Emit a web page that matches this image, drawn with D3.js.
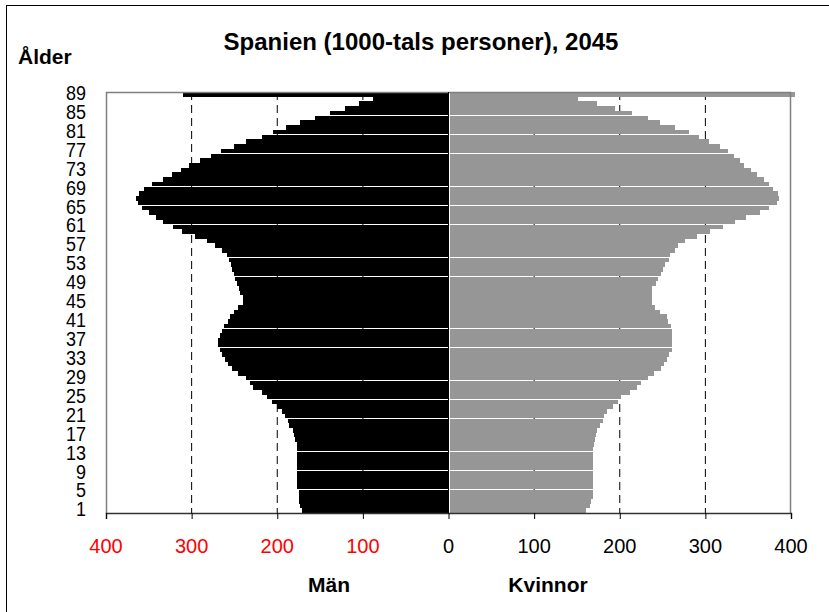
<!DOCTYPE html>
<html lang="sv">
<head>
    <meta charset="utf-8">
    <title>Spanien 2045</title>
    <script src="https://d3js.org/d3.v7.min.js"></script>
    <style>
        body { margin: 0; background: #fff; }
        svg text { font-family: Arial, "Liberation Sans", sans-serif; }
    </style>
</head>
<body>

<script>
    // ages 1..89, bottom to top
    const ages = d3.range(1, 90);
    const men = [171,174,175,175,175,177,177,177,177,177,177,177,177,177,177,179,180,182,186,188,
                 191,195,200,206,212,218,228,232,236,246,253,257,261,264,267,269,269,267,264,262,
                 258,255,251,246,240,240,243,245,247,249,251,253,254,256,259,265,273,282,296,311,
                 322,333,342,350,358,363,365,361,356,346,334,323,312,303,290,277,266,251,236,218,
                 205,190,173,156,138,121,105,88,310];
    const women = [161,165,167,169,169,169,169,169,169,169,169,169,169,169,170,171,172,174,177,180,
                   182,185,192,198,202,212,220,225,233,240,248,252,255,257,261,261,261,261,261,260,
                   256,255,247,241,238,238,238,238,242,245,248,251,253,257,259,264,268,276,290,305,
                   320,335,348,364,374,384,386,385,379,374,368,360,353,345,340,333,327,317,304,292,
                   281,264,247,233,214,194,173,151,405];
    const ageLabels = [1,5,9,13,17,21,25,29,33,37,41,45,49,53,57,61,65,69,73,77,81,85,89];
    const xTicks = [-400,-300,-200,-100,0,100,200,300,400];
    const gridVals = [-300,-200,-100,100,200,300];

    const W = 829, H = 612;
    const plot = {left: 106, right: 791, top: 92, bottom: 513};

    const svg = d3.select("body").append("svg").attr("width", W).attr("height", H);

    // outer frame
    svg.append("rect")
            .attr("x", 6.5).attr("y", 5.5)
            .attr("width", W + 10).attr("height", H + 10)
            .attr("fill", "none").attr("stroke", "#000");

    const x = d3.scaleLinear().domain([-400, 400]).range([plot.left, plot.right]);
    const y = d3.scaleBand()
            .domain(ages.slice().reverse())
            .range([plot.top, plot.bottom])
            .paddingInner(0.04);

    // gridlines
    svg.append("g").selectAll("line")
            .data(gridVals).enter()
            .append("line")
            .attr("x1", d => x(d)).attr("x2", d => x(d))
            .attr("y1", plot.top).attr("y2", plot.bottom)
            .attr("stroke", "#000")
            .attr("stroke-dasharray", "8,5");

    // bars
    svg.append("g").selectAll("rect")
            .data(ages).enter()
            .append("rect")
            .attr("x", (d, i) => x(-men[i]))
            .attr("y", d => y(d))
            .attr("width", (d, i) => x(0) - x(-men[i]))
            .attr("height", y.bandwidth())
            .attr("fill", "#000")
            .attr("shape-rendering", "crispEdges");

    svg.append("g").selectAll("rect")
            .data(ages).enter()
            .append("rect")
            .attr("x", x(0) + 1)
            .attr("y", d => y(d))
            .attr("width", (d, i) => x(women[i]) - x(0) - 1)
            .attr("height", y.bandwidth())
            .attr("fill", "#969696")
            .attr("shape-rendering", "crispEdges");

    // plot border (top, left, right)
    svg.append("path")
            .attr("d", `M${plot.left + 0.5},${plot.bottom}V${plot.top + 0.5}H${plot.right - 0.5}V${plot.bottom}`)
            .attr("fill", "none")
            .attr("stroke", "#808080")
            .attr("stroke-width", 1.5);

    // category axis at zero
    svg.append("line")
            .attr("x1", x(0)).attr("x2", x(0))
            .attr("y1", plot.top).attr("y2", plot.bottom)
            .attr("stroke", "#000");

    // value axis
    const axis = d3.axisBottom(x)
            .tickValues(xTicks)
            .tickSize(6)
            .tickFormat("");
    const gx = svg.append("g")
            .attr("transform", `translate(0,${plot.bottom})`)
            .call(axis);
    gx.select(".domain").attr("stroke", "#333").attr("stroke-width", 1.5);
    gx.selectAll(".tick line").attr("stroke", "#000");

    svg.append("g").selectAll("text")
            .data(xTicks).enter()
            .append("text")
            .attr("x", d => x(d))
            .attr("y", 553)
            .attr("text-anchor", "middle")
            .attr("font-size", 20)
            .attr("fill", d => d < 0 ? "#ff0000" : "#000")
            .text(d => Math.abs(d));

    // age labels (tightly stacked, as in the original)
    svg.append("g").selectAll("text")
            .data(ageLabels).enter()
            .append("text")
            .attr("x", 86)
            .attr("y", d => y(d) + y.step() / 2 + 5)
            .attr("text-anchor", "end")
            .attr("font-size", 18)
            .attr("transform", d => `translate(0,${-(y(d) + y.step() / 2) * 0.12}) scale(1,1.12)`)
            .text(d => d);

    // titles
    svg.append("text")
            .attr("x", 421).attr("y", 50)
            .attr("text-anchor", "middle")
            .attr("font-size", 24).attr("font-weight", "bold")
            .text("Spanien (1000-tals personer), 2045");

    svg.append("text")
            .attr("x", 18).attr("y", 64)
            .attr("font-size", 21).attr("font-weight", "bold")
            .text("Ålder");

    svg.append("text")
            .attr("x", 329).attr("y", 592)
            .attr("text-anchor", "middle")
            .attr("font-size", 21).attr("font-weight", "bold")
            .text("Män");

    svg.append("text")
            .attr("x", 548).attr("y", 592)
            .attr("text-anchor", "middle")
            .attr("font-size", 21).attr("font-weight", "bold")
            .text("Kvinnor");
</script>

</body>
</html>
